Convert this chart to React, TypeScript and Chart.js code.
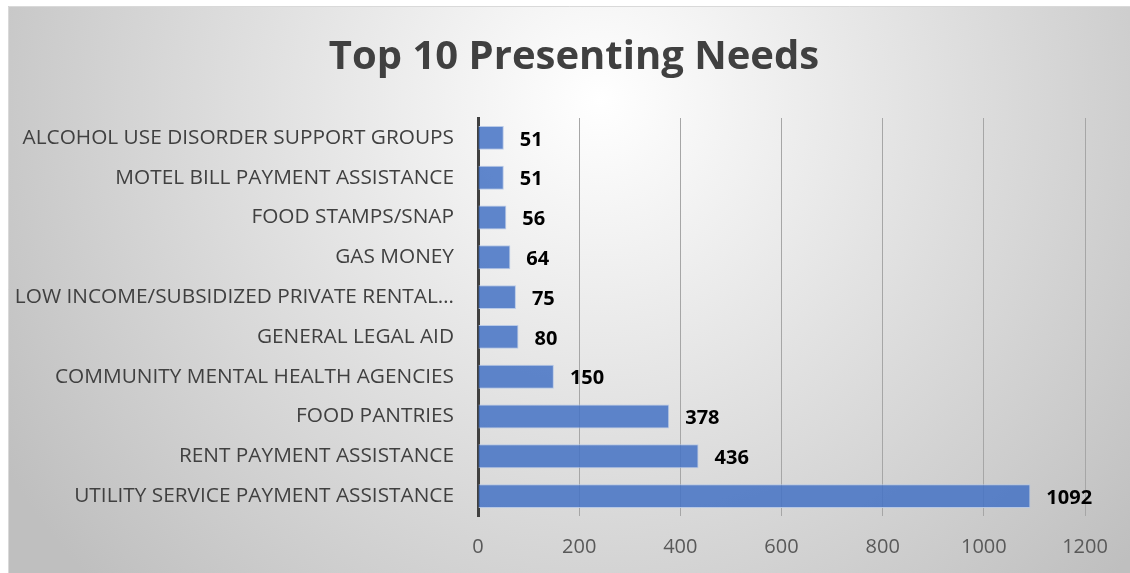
import React, { useEffect, useRef } from "react";
import { Chart, registerables } from "chart.js";

Chart.register(...registerables);

const titleText = "Top 10 Presenting Needs";
const categories = [
  "ALCOHOL USE DISORDER SUPPORT GROUPS",
  "MOTEL BILL PAYMENT ASSISTANCE",
  "FOOD STAMPS/SNAP",
  "GAS MONEY",
  "LOW INCOME/SUBSIDIZED PRIVATE RENTAL…",
  "GENERAL LEGAL AID",
  "COMMUNITY MENTAL HEALTH AGENCIES",
  "FOOD PANTRIES",
  "RENT PAYMENT ASSISTANCE",
  "UTILITY SERVICE PAYMENT ASSISTANCE",
];
const counts = [51, 51, 56, 64, 75, 80, 150, 378, 436, 1092];
const xTicks = [0, 200, 400, 600, 800, 1000, 1200];

const FONT = "'Open Sans', 'DejaVu Sans', sans-serif";

const bgPlugin = {
  id: "bgPlugin",
  beforeDraw(chart: any) {
    const { ctx, width, height } = chart;
    ctx.save();
    ctx.fillStyle = "#ffffff";
    ctx.fillRect(0, 0, width, height);
    const g = ctx.createRadialGradient(600, 100, 0, 600, 100, 700);
    g.addColorStop(0, "#ffffff");
    g.addColorStop(1, "#bfbfbf");
    ctx.fillStyle = g;
    ctx.fillRect(8, 6, width - 8, height - 6);
    ctx.strokeStyle = "#d9d9d9";
    ctx.lineWidth = 1;
    ctx.beginPath();
    ctx.moveTo(8.5, height);
    ctx.lineTo(8.5, 6.5);
    ctx.lineTo(width, 6.5);
    ctx.stroke();
    // title
    ctx.fillStyle = "#404040";
    ctx.font = `bold 40px ${FONT}`;
    ctx.textAlign = "center";
    ctx.textBaseline = "middle";
    ctx.fillText(titleText, 574, 58);
    ctx.restore();
  },
};

const labelPlugin = {
  id: "labelPlugin",
  afterDatasetsDraw(chart: any) {
    const { ctx } = chart;
    const meta = chart.getDatasetMeta(0);
    ctx.save();
    ctx.fillStyle = "#000000";
    ctx.font = `bold 20px ${FONT}`;
    ctx.textAlign = "left";
    ctx.textBaseline = "middle";
    meta.data.forEach((bar: any, i: number) => {
      ctx.fillText(String(counts[i]), bar.x + 16, bar.y + 2);
    });
    ctx.restore();
  },
};

export default function App() {
  const ref = useRef<HTMLCanvasElement | null>(null);
  useEffect(() => {
    if (!ref.current) return;
    const chart = new Chart(ref.current, {
      type: "bar",
      data: {
        labels: categories,
        datasets: [
          {
            data: counts,
            backgroundColor: "rgba(68,114,196,0.85)",
            borderColor: "rgba(180,199,231,0.9)",
            borderWidth: 1,
            barPercentage: 0.6,
            categoryPercentage: 1,
          },
        ],
      },
      options: {
        indexAxis: "y",
        animation: false,
        responsive: false,
        maintainAspectRatio: false,
        layout: { padding: { left: 0, right: 45, top: 118, bottom: 0 } },
        plugins: {
          legend: { display: false },
          tooltip: { enabled: false },
          title: { display: false },
        },
        scales: {
          x: {
            min: 0,
            max: 1200,
            afterBuildTicks: (s: any) => {
              s.ticks = xTicks.map((v) => ({ value: v }));
            },
            afterFit: (s: any) => {
              s.height = 57;
            },
            grid: { color: "#a6a6a6", lineWidth: 1, drawTicks: false },
            border: { display: false },
            ticks: {
              color: "#595959",
              padding: 19,
              font: { family: FONT, size: 20 },
              callback: (v: any) => String(v),
            },
          },
          y: {
            afterFit: (s: any) => {
              s.width = 478;
            },
            grid: { display: false, drawTicks: false },
            border: { display: true, color: "#404040", width: 3 },
            ticks: {
              color: "#404040",
              padding: 24,
              font: { family: FONT, size: 20.8 },
            },
          },
        },
      },
      plugins: [bgPlugin, labelPlugin],
    });
    return () => chart.destroy();
  }, []);
  return (
    <div style={{ position: "absolute", left: 0, top: 0, width: 1130, height: 573 }}>
      <canvas ref={ref} width={1130} height={573} style={{ display: "block", width: 1130, height: 573 }} />
    </div>
  );
}
